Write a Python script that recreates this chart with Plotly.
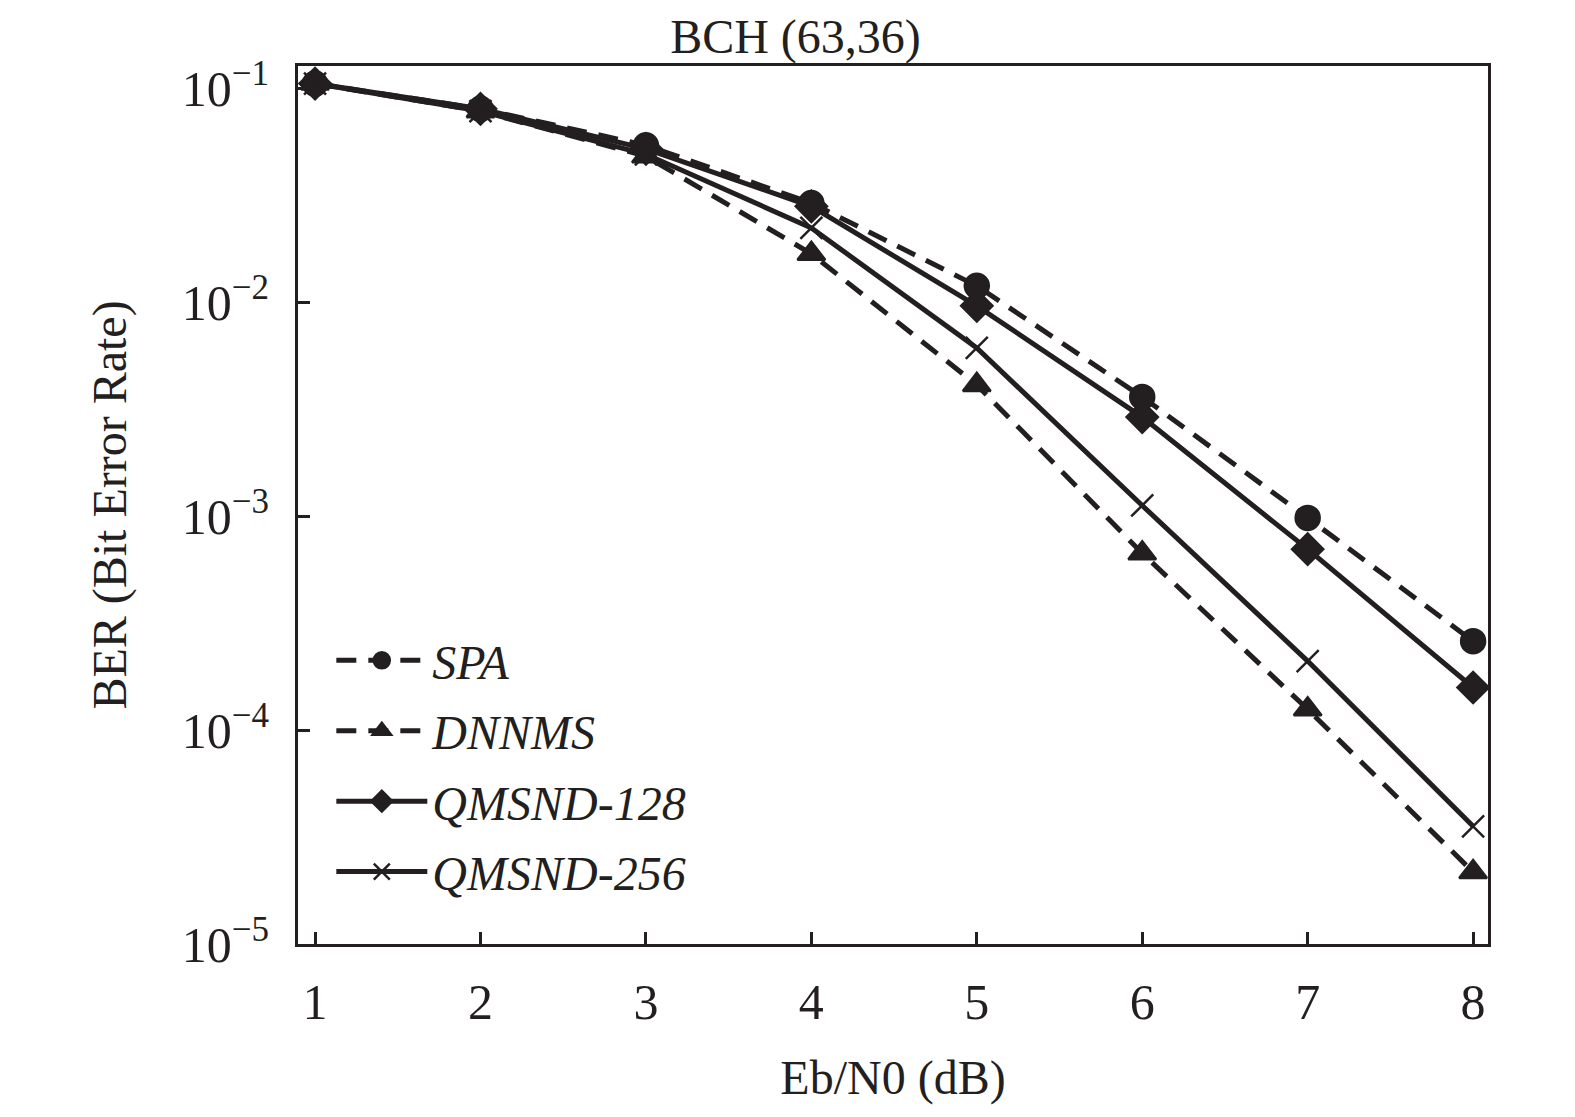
import plotly.graph_objects as go

ebn0 = [1, 2, 3, 4, 5, 6, 7, 8]

spa = [0.105, 0.080, 0.054, 0.029, 0.0119, 0.0036, 0.00098, 0.00026]
dnnms = [0.105, 0.078, 0.048, 0.0168, 0.0041, 0.00067, 0.000125, 0.0000217]
qmsnd_128 = [0.105, 0.080, 0.052, 0.028, 0.0096, 0.0029, 0.00070, 0.000158]
qmsnd_256 = [0.105, 0.078, 0.049, 0.0222, 0.0061, 0.00112, 0.00021, 0.0000355]

y_tickvals = [1e-5, 1e-4, 1e-3, 1e-2, 1e-1]
y_ticktext = ["10<sup>−5</sup>", "10<sup>−4</sup>", "10<sup>−3</sup>", "10<sup>−2</sup>", "10<sup>−1</sup>"]

ink = "#231f20"

series = [
    ("SPA", spa, "20px,12px", "circle", 24),
    ("DNNMS", dnnms, "20px,12px", "triangle-up", 24),
    ("QMSND-128", qmsnd_128, "solid", "diamond", 24),
    ("QMSND-256", qmsnd_256, "solid", "x-thin-open", 22),
]

fig = go.Figure()
for name, vals, dash, sym, size in series:
    fig.add_trace(go.Scatter(
        x=ebn0, y=vals, name=name, legendgroup=name,
        mode="lines+markers",
        line=dict(color=ink, width=5, dash=dash),
        marker=dict(symbol=sym, size=size, color=ink,
                    line=dict(color=ink, width=2.5)),
    ))

font = "Liberation Serif, Times New Roman, serif"
fig.update_layout(
    width=1575, height=1117,
    margin=dict(l=290, r=95, t=58, b=181),
    paper_bgcolor="white", plot_bgcolor="white",
    font=dict(family=font, size=48, color=ink),
    title=dict(text="BCH (63,36)", x=0.5, xanchor="center",
               y=0.975, yanchor="middle",
               font=dict(family=font, size=48, color=ink)),
    showlegend=True,
    legend=dict(x=0.028, y=0.366, xanchor="left", yanchor="top",
                bgcolor="rgba(0,0,0,0)", tracegroupgap=5,
                font=dict(family=font, size=48, color=ink, style="italic"),
                itemwidth=91),
    xaxis=dict(range=[0.897, 8.09], tickvals=ebn0, ticks="inside", ticklen=12,
               tickwidth=3, tickcolor=ink,
               showline=True, linewidth=3, linecolor=ink, mirror=True,
               showgrid=False, zeroline=False,
               tickfont=dict(size=50), ticklabelstandoff=12,
               title=dict(text="Eb/N0 (dB)", font=dict(size=48), standoff=32)),
    yaxis=dict(type="log", range=[-5, -0.897], tickvals=y_tickvals, ticktext=y_ticktext,
               ticks="inside", ticklen=12, tickwidth=3, tickcolor=ink,
               showline=True, linewidth=3, linecolor=ink, mirror=True,
               showgrid=False, zeroline=False,
               tickfont=dict(size=50), ticklabelstandoff=16,
               title=dict(text="BER (Bit Error Rate)", font=dict(size=48), standoff=40)),
)

fig.write_html("out.html")
